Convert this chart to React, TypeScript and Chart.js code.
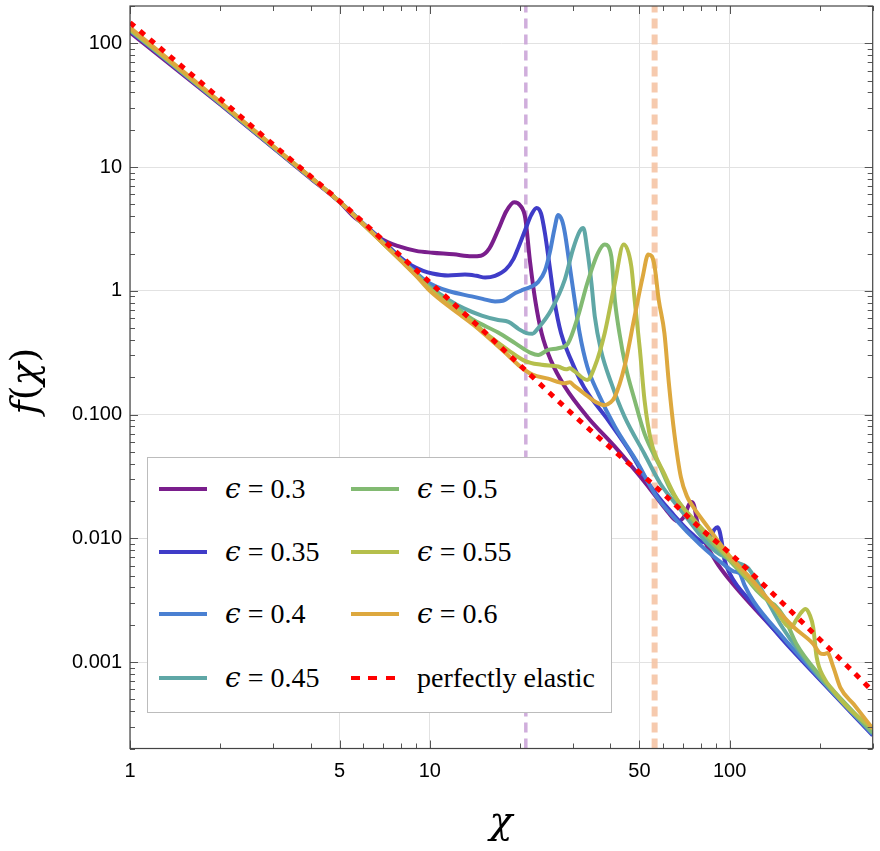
import React, { useEffect, useRef } from 'react';
import { Chart, registerables } from 'chart.js';

Chart.register(...registerables);

// ---------- axes ----------
const xMin = 1;
const xMax = 300;
const yMin = 0.0002;
const yMax = 200;
const xTickValues = [1, 5, 10, 50, 100];
const xTickLabels = ['1', '5', '10', '50', '100'];
const xMinorTicks = [2, 3, 4, 6, 7, 8, 9, 20, 30, 40, 60, 70, 80, 90, 200, 300];
const yTickValues = [0.001, 0.01, 0.1, 1, 10, 100];
const yTickLabels = ['0.001', '0.010', '0.100', '1', '10', '100'];
const yMinorTicks = [
  0.0002, 0.0003, 0.0004, 0.0005, 0.0006, 0.0007, 0.0008, 0.0009,
  0.002, 0.003, 0.004, 0.005, 0.006, 0.007, 0.008, 0.009,
  0.02, 0.03, 0.04, 0.05, 0.06, 0.07, 0.08, 0.09,
  0.2, 0.3, 0.4, 0.5, 0.6, 0.7, 0.8, 0.9,
  2, 3, 4, 5, 6, 7, 8, 9,
  20, 30, 40, 50, 60, 70, 80, 90, 200,
];
const xTitle = 'χ';
const yTitleFn = 'f';
const yTitleArg = 'χ';

// ---------- vertical markers ----------
const markerX = [20.9, 56.2];
const markerColors = ['rgba(200,160,214,0.85)', 'rgba(245,196,165,0.9)'];
const markerWidths = [3.5, 6];

// ---------- series ----------
const eps30X = [1, 2, 3, 4, 5, 5.5, 6.1, 6.9, 7.9, 9, 10.2, 12, 13.8, 14.8, 15.8, 16.9, 18, 19.1, 20, 20.8, 21.6, 22.5, 23.6, 25.4, 28.2, 33.5, 41.4, 49.5, 55, 62, 67, 70.5, 73, 74.5, 76, 78, 80, 90, 100, 150, 200, 300];
const eps30Y = [122, 32, 14.3, 8.1, 5.2, 4.1, 3.35, 2.62, 2.28, 2.1, 2.03, 1.97, 1.9, 1.92, 2.2, 3.1, 4.4, 5.2, 4.9, 3.9, 1.7, 0.82, 0.454, 0.27, 0.168, 0.096, 0.055, 0.033, 0.024, 0.0165, 0.0137, 0.015, 0.0185, 0.0196, 0.0185, 0.0135, 0.0112, 0.0065, 0.0046, 0.00155, 0.00073, 0.00026];

const eps35X = [1, 2, 3, 4, 5, 6, 7, 8, 8.7, 9.5, 10.2, 11.5, 13.1, 14.3, 15.3, 16.5, 17.9, 19, 19.8, 20.8, 21.8, 22.7, 23.5, 24.2, 25.1, 26, 27.4, 29.6, 32.6, 39.3, 47, 54.6, 65, 75, 82, 86.7, 89, 91, 92.5, 94, 96, 100, 120, 150, 200, 300];
const eps35Y = [126, 32.5, 14.4, 8.2, 5.25, 3.5, 2.5, 1.85, 1.6, 1.45, 1.38, 1.33, 1.35, 1.32, 1.28, 1.32, 1.48, 1.8, 2.28, 3.1, 4.1, 4.67, 4.2, 2.93, 1.57, 0.845, 0.454, 0.275, 0.168, 0.09, 0.048, 0.026, 0.0155, 0.0108, 0.0093, 0.0105, 0.0118, 0.0123, 0.0115, 0.0095, 0.0068, 0.0052, 0.0029, 0.00152, 0.00072, 0.000255];

const eps40X = [1, 2, 3, 4, 5, 6, 7, 8, 9, 9.7, 10.5, 11.6, 13.8, 15, 16.5, 17.5, 19.3, 20.5, 21.8, 23, 24.2, 25.2, 26, 26.8, 27.6, 28.2, 29.3, 30.4, 31.6, 33.5, 36.4, 41.4, 49.5, 56.2, 65, 80, 95, 103, 108, 112, 120, 150, 200, 300];
const eps40Y = [127, 32.6, 14.5, 8.2, 5.25, 3.47, 2.44, 1.79, 1.4, 1.2, 1.08, 0.99, 0.9, 0.86, 0.82, 0.83, 0.96, 1.02, 1.08, 1.18, 1.45, 2.1, 3.1, 4.1, 3.7, 2.95, 1.57, 0.845, 0.454, 0.244, 0.149, 0.08, 0.04, 0.0229, 0.0148, 0.0088, 0.0062, 0.0054, 0.0052, 0.0042, 0.0031, 0.0016, 0.00074, 0.00026];

const eps45X = [1, 2, 3, 4, 5, 6, 7, 8, 9, 10, 11.6, 13, 14.9, 16.9, 18.3, 19.8, 21, 22, 23, 25.4, 28.2, 30, 31.6, 32.5, 33.5, 34.6, 35.5, 37.2, 40.3, 44.6, 52, 58.7, 70, 80, 90, 98.5, 107, 114.7, 120, 126, 133, 150, 200, 300];
const eps45Y = [128, 32.8, 14.5, 8.2, 5.25, 3.45, 2.42, 1.78, 1.37, 1.08, 0.84, 0.72, 0.63, 0.58, 0.56, 0.49, 0.455, 0.45, 0.5, 0.7, 1.23, 2.15, 3.02, 3.22, 2.15, 1.15, 0.62, 0.333, 0.179, 0.096, 0.048, 0.0277, 0.016, 0.0105, 0.0078, 0.0069, 0.0063, 0.0058, 0.005, 0.0041, 0.0032, 0.0019, 0.00075, 0.000265];

const eps50X = [1, 2, 3, 4, 5, 6, 7, 8, 9, 10, 12, 14, 16.9, 19.3, 21.8, 23, 24.8, 26.8, 28.9, 31.2, 33.5, 36.4, 38.3, 40.3, 41.4, 42.9, 45, 48.2, 52, 58.7, 63.6, 70, 80, 100, 115, 123, 135, 141, 152, 167, 200, 300];
const eps50Y = [129, 33, 14.6, 8.25, 5.25, 3.45, 2.42, 1.77, 1.35, 1.05, 0.76, 0.58, 0.46, 0.376, 0.313, 0.303, 0.333, 0.343, 0.376, 0.62, 1.15, 2.02, 2.36, 1.9, 0.845, 0.454, 0.244, 0.131, 0.07, 0.0375, 0.0245, 0.0175, 0.0115, 0.0066, 0.0046, 0.0038, 0.0031, 0.0029, 0.0023, 0.0014, 0.00078, 0.00027];

const eps55X = [1, 2, 3, 4, 5, 6, 7, 8, 9, 10, 12, 14, 16, 18.3, 20.8, 23.6, 26.8, 28.5, 29.3, 30.5, 33.5, 35.5, 38.3, 41.4, 44.3, 47, 48.2, 50.2, 52, 54.6, 60.6, 66.9, 76.5, 90, 100, 120, 140, 160, 167, 173, 179, 185, 190, 195, 206, 220, 250, 300];
const eps55Y = [130, 33.2, 14.7, 8.3, 5.25, 3.45, 2.41, 1.76, 1.33, 1.03, 0.73, 0.55, 0.42, 0.33, 0.27, 0.252, 0.244, 0.232, 0.236, 0.222, 0.19, 0.244, 0.454, 1.15, 2.36, 1.57, 0.845, 0.333, 0.131, 0.062, 0.033, 0.0204, 0.0139, 0.009, 0.0068, 0.0042, 0.0028, 0.0019, 0.0022, 0.0025, 0.00268, 0.0024, 0.0019, 0.0011, 0.00075, 0.0006, 0.00042, 0.00029];

const eps60X = [1, 2, 3, 4, 5, 6, 7, 8, 9, 10, 12, 14, 16, 18, 20, 22, 24.8, 28.2, 29.3, 30.2, 32.6, 36, 38.3, 40, 41.4, 44.6, 48.2, 51.3, 53.5, 55, 56.2, 58, 60.6, 62.7, 65.4, 68.8, 72.2, 74.4, 84.6, 98.5, 117, 141, 164, 190, 200, 206, 212, 222, 234, 259, 300];
const eps60Y = [134, 33.5, 14.8, 8.3, 5.25, 3.45, 2.4, 1.75, 1.32, 1.0, 0.7, 0.53, 0.4, 0.31, 0.245, 0.21, 0.195, 0.179, 0.182, 0.172, 0.149, 0.125, 0.119, 0.125, 0.139, 0.244, 0.62, 1.3, 1.96, 1.9, 1.57, 0.845, 0.454, 0.179, 0.07, 0.031, 0.0216, 0.019, 0.0123, 0.0075, 0.0048, 0.0028, 0.0019, 0.0014, 0.00118, 0.00116, 0.00118, 0.0009, 0.00062, 0.000457, 0.00029];

const elasticX = [1, 2, 3, 5, 7, 10, 15, 20, 30, 40, 50, 60, 80, 100, 150, 200, 250, 300];
const elasticY = [147, 35.5, 15.2, 5.3, 2.55, 1.17, 0.48, 0.25, 0.1, 0.054, 0.034, 0.023, 0.012, 0.0076, 0.003, 0.00152, 0.0009, 0.00058];

const epsLabels = ['0.3', '0.35', '0.4', '0.45', '0.5', '0.55', '0.6'];
const epsColors = ['#7a1e8c', '#3f3cc8', '#4a80d2', '#5fa7a6', '#82ba72', '#b5bf4c', '#dda83e'];
const epsXs = [eps30X, eps35X, eps40X, eps45X, eps50X, eps55X, eps60X];
const epsYs = [eps30Y, eps35Y, eps40Y, eps45Y, eps50Y, eps55Y, eps60Y];
const elasticColor = '#ff0000';
const elasticLabel = 'perfectly elastic';

const TICK_FONT = "'Liberation Sans', Arial, sans-serif";
const SERIF = "'Liberation Serif', 'DejaVu Serif', serif";
const MATH = "'DejaVu Serif', serif";

const framePlugin = {
  id: 'frameTicks',
  afterDatasetsDraw(chart: any) {
    const { ctx, chartArea: a, scales } = chart;
    const xs = scales.x;
    const ys = scales.y;
    ctx.save();
    ctx.strokeStyle = '#555';
    ctx.lineWidth = 1;
    ctx.beginPath();
    const drawX = (v: number, len: number) => {
      const p = Math.round(xs.getPixelForValue(v)) + 0.5;
      ctx.moveTo(p, a.bottom);
      ctx.lineTo(p, a.bottom - len);
      ctx.moveTo(p, a.top);
      ctx.lineTo(p, a.top + len);
    };
    const drawY = (v: number, len: number) => {
      const p = Math.round(ys.getPixelForValue(v)) + 0.5;
      ctx.moveTo(a.left, p);
      ctx.lineTo(a.left + len, p);
      ctx.moveTo(a.right, p);
      ctx.lineTo(a.right - len, p);
    };
    xTickValues.forEach((v) => drawX(v, 8));
    xMinorTicks.forEach((v) => drawX(v, 5));
    yTickValues.forEach((v) => drawY(v, 8));
    yMinorTicks.forEach((v) => drawY(v, 5));
    ctx.stroke();
    ctx.lineWidth = 1.2;
    ctx.strokeStyle = '#444';
    ctx.strokeRect(a.left, a.top, a.right - a.left, a.bottom - a.top);
    ctx.restore();
  },
};

export default function App() {
  const ref = useRef<HTMLCanvasElement>(null);

  useEffect(() => {
    const canvas = ref.current;
    if (!canvas) return;
    const datasets: any[] = [];
    datasets.push({
      label: elasticLabel,
      data: elasticX.map((x, i) => ({ x, y: elasticY[i] })),
      borderColor: elasticColor,
      borderWidth: 5,
      borderDash: [6, 7],
      borderCapStyle: 'butt',
      pointRadius: 0,
      cubicInterpolationMode: 'monotone',
      fill: false,
      order: 0,
    });
    for (let k = epsLabels.length - 1; k >= 0; k--) {
      datasets.push({
        label: 'ϵ = ' + epsLabels[k],
        data: epsXs[k].map((x, i) => ({ x, y: epsYs[k][i] })),
        borderColor: epsColors[k],
        borderWidth: 4,
        pointRadius: 0,
        cubicInterpolationMode: 'monotone',
        fill: false,
        order: 7 - k,
      });
    }
    markerX.forEach((mx, i) => {
      datasets.push({
        label: 'marker' + i,
        data: [{ x: mx, y: yMin }, { x: mx, y: yMax }],
        borderColor: markerColors[i],
        borderWidth: markerWidths[i],
        borderDash: [10, 6],
        borderCapStyle: 'butt',
        pointRadius: 0,
        tension: 0,
        fill: false,
        order: 10,
      });
    });

    const chart = new Chart(canvas, {
      type: 'line',
      data: { datasets },
      options: {
        animation: false,
        responsive: false,
        devicePixelRatio: 1,
        layout: { padding: { top: 6, right: 7.3, left: 0, bottom: 0 } },
        plugins: {
          legend: { display: false },
          tooltip: { enabled: false },
        },
        events: [],
        scales: {
          x: {
            type: 'logarithmic',
            min: xMin,
            max: xMax,
            afterBuildTicks: (s: any) => {
              s.ticks = xTickValues.map((v) => ({ value: v }));
            },
            afterFit: (s: any) => {
              s.height = 102.5;
              s.paddingLeft = 0;
              s.paddingRight = 0;
            },
            ticks: {
              autoSkip: false,
              maxRotation: 0,
              padding: 11,
              color: '#000',
              font: { family: TICK_FONT, size: 20 },
              callback: (v: any) => {
                const i = xTickValues.indexOf(Number(v));
                return i >= 0 ? xTickLabels[i] : '';
              },
            },
            grid: { color: '#e2e2e2', lineWidth: 1, drawTicks: false },
            border: { display: false },
          },
          y: {
            type: 'logarithmic',
            min: yMin,
            max: yMax,
            afterBuildTicks: (s: any) => {
              s.ticks = yTickValues.map((v) => ({ value: v }));
            },
            afterFit: (s: any) => {
              s.width = 130;
              s.paddingTop = 0;
              s.paddingBottom = 0;
            },
            ticks: {
              autoSkip: false,
              padding: 8,
              color: '#000',
              font: { family: TICK_FONT, size: 20 },
              callback: (v: any) => {
                const n = Number(v);
                const i = yTickValues.findIndex((t) => Math.abs(t - n) / t < 1e-6);
                return i >= 0 ? yTickLabels[i] : '';
              },
            },
            grid: { color: '#e2e2e2', lineWidth: 1, drawTicks: false },
            border: { display: false },
          },
        },
      } as any,
      plugins: [framePlugin],
    });
    return () => {
      chart.destroy();
    };
  }, []);

  const legendRows = [31, 94, 156, 220];
  const legendEntries = [
    ...epsLabels.map((l, i) => ({ label: l, color: epsColors[i], dashed: false })),
    { label: elasticLabel, color: elasticColor, dashed: true },
  ];

  const titleStyle: React.CSSProperties = {
    position: 'absolute',
    fontFamily: MATH,
    fontSize: 38,
    lineHeight: '40px',
    height: 40,
    color: '#000',
    textAlign: 'center',
    whiteSpace: 'pre',
  };

  return (
    <div style={{ position: 'fixed', left: 0, top: 0, width: 880, height: 851, background: '#fff', overflow: 'hidden' }}>
      <canvas ref={ref} width={880} height={851} style={{ position: 'absolute', left: 0, top: 0, width: 880, height: 851 }} />
      <div style={{ ...titleStyle, left: 401, top: 800, width: 200 }}>
        <span style={{ fontStyle: 'italic' }}>{xTitle}</span>
      </div>
      <div style={{ ...titleStyle, left: 24 - 100, top: 381 - 20, width: 200, transform: 'rotate(-90deg)' }}>
        <span style={{ fontStyle: 'italic' }}>{yTitleFn}</span>
        <span>(</span>
        <span style={{ fontStyle: 'italic' }}>{yTitleArg}</span>
        <span>)</span>
      </div>
      <div
        style={{
          position: 'absolute',
          left: 147,
          top: 457,
          width: 465,
          height: 256,
          boxSizing: 'border-box',
          background: '#fff',
          border: '1px solid #bcbcbc',
        }}
      >
        {legendEntries.map((e, i) => {
          const col = i < 4 ? 0 : 1;
          const row = i % 4;
          const cy = legendRows[row];
          const sx = col === 0 ? 11 : 203;
          const tx = col === 0 ? 77 : 269;
          return (
            <React.Fragment key={i}>
              <div
                style={{
                  position: 'absolute',
                  left: sx,
                  top: cy - 2.5,
                  width: 48,
                  height: 4,
                  background: e.dashed
                    ? `repeating-linear-gradient(to right, ${e.color} 0px, ${e.color} 9px, transparent 9px, transparent 17.5px)`
                    : e.color,
                }}
              />
              <div
                style={{
                  position: 'absolute',
                  left: tx,
                  top: cy - 17,
                  height: 34,
                  lineHeight: '34px',
                  fontFamily: SERIF,
                  fontSize: 28,
                  color: '#000',
                  whiteSpace: 'pre',
                }}
              >
                {e.dashed ? (
                  e.label
                ) : (
                  <>
                    <span style={{ fontStyle: 'italic', fontFamily: MATH }}>ϵ</span>
                    {' = ' + e.label}
                  </>
                )}
              </div>
            </React.Fragment>
          );
        })}
      </div>
    </div>
  );
}
